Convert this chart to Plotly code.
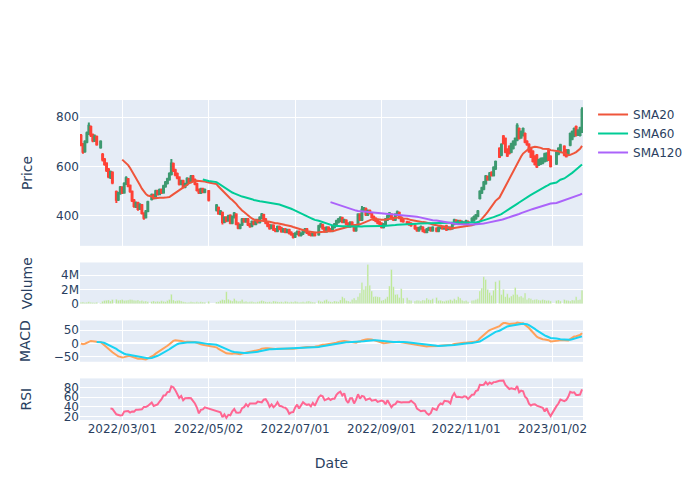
import pandas as pd
import plotly.graph_objects as go
from plotly.subplots import make_subplots

start_date = "2022-01-31"
# Tokyo market holidays inside the range (no trading on these weekdays)
holidays = [
    "2022-02-11", "2022-02-23", "2022-03-21", "2022-04-29", "2022-05-03",
    "2022-05-04", "2022-05-05", "2022-07-18", "2022-09-19", "2022-09-23",
    "2022-10-10", "2022-11-03", "2022-11-23", "2023-01-02", "2023-01-03",
    "2023-01-09",
]

opens = [
    725, 688, 662, 700, 735, 760, 728, 705, 720,
    678, 648, 628, 612, 588, 556, 575, 497, 466,
    492, 515, 495, 530, 548, 522, 498, 462, 438, 452,
    430, 443, 410, 394, 420, 468, 484, 472, 500,
    488, 505, 495, 520, 533, 548, 570, 610, 585, 570,
    555, 530, 540, 518, 528, 548, 538, 560, 545, 528,
    505, 495, 508, 498, 500, 425,
    432, 408, 412, 376, 392, 382, 400, 372, 395, 405,
    368, 352, 365, 385, 378, 385, 365, 360, 375, 368,
    382, 375, 392, 403, 385, 372, 362, 352, 360, 345,
    340, 355, 350, 338, 345, 335, 342, 332, 325, 316,
    328, 335, 322, 328, 338, 345, 332, 325, 322, 330,
    325, 358, 362, 350, 338, 352, 345, 340, 355,
    362, 375, 380, 390, 376, 380, 368, 358, 372, 360,
    342, 362, 405, 385, 425, 428, 405, 420, 410, 395,
    388, 382, 374, 368, 355, 365, 385, 398, 405, 390,
    385, 405, 412, 392, 382, 374, 372, 368,
    360, 350, 342, 350, 352, 340, 335, 345, 350, 342,
    348, 340, 352, 356, 350, 358, 348, 352, 350,
    368, 380, 372, 378, 370, 372, 368, 375, 380,
    382, 390, 400, 472, 495, 510, 532, 558, 548, 575,
    565, 592, 672, 648, 722, 712, 668, 680, 660,
    675, 690, 708, 752, 718, 728, 732, 700, 688, 672,
    660, 640, 645, 608, 612, 615, 622, 625, 665, 640,
    612, 652, 660, 680, 665, 650, 688,
    712, 725, 760, 730, 728, 742,
]

closes = [
    690, 660, 700, 735, 765, 728, 705, 722, 690,
    700, 628, 610, 585, 560, 578, 535, 465, 492,
    515, 495, 530, 552, 522, 500, 462, 440, 452, 428,
    445, 412, 392, 418, 455, 485, 472, 500, 488,
    505, 495, 520, 535, 548, 570, 612, 585, 568, 555,
    530, 540, 518, 528, 550, 538, 560, 545, 530, 505,
    495, 508, 498, 505, 465, 442,
    410, 418, 375, 392, 380, 398, 372, 395, 410, 368,
    352, 362, 385, 378, 385, 365, 358, 375, 368, 382,
    375, 392, 405, 385, 372, 360, 350, 360, 345, 340,
    355, 348, 338, 345, 335, 342, 330, 325, 315, 328,
    335, 322, 328, 338, 345, 332, 325, 322, 330, 322,
    358, 365, 350, 338, 352, 345, 340, 358, 365,
    378, 385, 392, 376, 382, 368, 358, 372, 360, 342,
    360, 405, 385, 425, 430, 405, 420, 412, 395, 385,
    380, 372, 368, 355, 365, 385, 398, 410, 390, 385,
    405, 415, 392, 380, 378, 370, 366, 362,
    350, 342, 350, 355, 340, 335, 345, 350, 342, 352,
    340, 352, 358, 350, 355, 345, 352, 348, 368,
    382, 372, 378, 370, 375, 368, 378, 372, 388,
    395, 402, 418, 498, 512, 535, 560, 548, 572, 565,
    595, 618, 640, 688, 695, 660, 645, 655, 690,
    700, 712, 765, 715, 740, 752, 700, 690, 662, 640,
    622, 610, 600, 625, 630, 632, 650, 652, 628, 602,
    655, 672, 686, 648, 642, 665, 732,
    740, 752, 728, 745, 755, 830,
]

highs = [
    732, 695, 706, 742, 778, 766, 734, 730, 726,
    706, 655, 634, 617, 594, 584, 581, 503, 498,
    521, 520, 536, 561, 553, 527, 503, 468, 458, 457,
    451, 448, 415, 424, 461, 491, 490, 506, 506,
    511, 511, 526, 541, 554, 577, 630, 616, 591, 576,
    561, 546, 546, 534, 556, 554, 566, 566, 551, 534,
    511, 514, 514, 511, 505, 448,
    438, 424, 418, 398, 398, 404, 406, 401, 416, 411,
    374, 368, 391, 391, 391, 391, 371, 381, 381, 388,
    388, 398, 412, 409, 391, 378, 368, 366, 366, 351,
    361, 361, 356, 351, 351, 348, 348, 338, 331, 334,
    341, 341, 334, 344, 351, 351, 338, 331, 336, 336,
    364, 371, 368, 356, 358, 358, 351, 364, 371,
    384, 391, 398, 396, 388, 386, 374, 378, 378, 366,
    366, 411, 411, 440, 436, 434, 426, 426, 416, 401,
    394, 388, 380, 374, 371, 391, 404, 416, 411, 396,
    411, 422, 418, 398, 388, 380, 378, 374,
    366, 356, 356, 361, 358, 346, 351, 356, 356, 358,
    354, 358, 364, 362, 361, 364, 358, 358, 374,
    388, 386, 384, 384, 381, 378, 384, 381, 394,
    401, 408, 424, 504, 518, 541, 566, 564, 578, 581,
    601, 624, 678, 694, 728, 718, 674, 686, 696,
    706, 718, 775, 758, 746, 758, 738, 706, 694, 678,
    666, 646, 651, 631, 636, 638, 656, 658, 671, 646,
    661, 678, 692, 686, 671, 671, 738,
    746, 758, 766, 751, 761, 840,
]

lows = [
    682, 652, 656, 694, 728, 720, 698, 699, 684,
    672, 620, 603, 578, 552, 549, 528, 452, 460,
    486, 489, 490, 525, 516, 494, 456, 433, 432, 421,
    424, 405, 384, 389, 415, 462, 466, 467, 482,
    483, 489, 490, 514, 527, 542, 564, 578, 561, 548,
    523, 524, 512, 512, 522, 532, 532, 539, 524, 499,
    489, 489, 492, 492, 458, 418,
    404, 402, 365, 370, 374, 376, 366, 366, 389, 362,
    346, 346, 359, 372, 372, 359, 352, 354, 362, 362,
    369, 369, 386, 379, 366, 354, 344, 346, 339, 334,
    334, 342, 332, 332, 329, 329, 324, 319, 308, 310,
    322, 316, 316, 322, 332, 326, 319, 316, 316, 316,
    319, 352, 344, 332, 332, 339, 334, 334, 349,
    356, 369, 374, 370, 370, 362, 352, 352, 354, 336,
    336, 356, 379, 379, 419, 399, 399, 406, 389, 379,
    374, 366, 362, 349, 349, 359, 379, 392, 384, 379,
    379, 399, 386, 374, 372, 364, 360, 356,
    344, 336, 336, 344, 334, 329, 329, 339, 336, 336,
    334, 334, 346, 344, 344, 339, 342, 342, 344,
    362, 366, 366, 364, 364, 362, 362, 366, 374,
    376, 384, 394, 466, 489, 504, 526, 542, 542, 559,
    559, 586, 634, 642, 689, 654, 639, 649, 654,
    669, 684, 702, 709, 712, 722, 694, 684, 656, 634,
    616, 604, 594, 602, 606, 609, 616, 619, 622, 596,
    606, 646, 654, 642, 636, 644, 682,
    706, 719, 722, 724, 722, 736,
]

# volume in millions of shares
volume_m = [
    0.20, 0.25, 0.18, 0.22, 0.30, 0.20, 0.18, 0.15, 0.20, 0.12,
    0.35, 0.45, 0.50, 0.55, 0.40, 0.60, 0.65, 0.50, 0.55, 0.60,
    0.45, 0.50, 0.55, 0.60, 0.58, 0.50, 0.45, 0.55, 0.40,
    0.45, 0.35, 0.40, 0.30, 0.32, 0.40, 0.28, 0.35, 0.30, 0.42,
    0.35, 0.30, 0.45, 0.60,
    1.35,
    0.55, 0.40, 0.48, 0.50, 0.38, 0.30, 0.25, 0.18, 0.22, 0.30,
    0.25, 0.20, 0.28, 0.22,
    0.30, 0.25, 0.20, 0.35, 0.25, 0.30, 0.45, 0.60, 0.55,
    1.70,
    0.65, 0.50, 0.40, 0.75, 0.45, 0.35, 0.40, 0.60, 0.30, 0.35, 0.25,
    0.28, 0.32, 0.25, 0.20, 0.30, 0.35, 0.45, 0.40, 0.30, 0.25,
    0.30, 0.22, 0.40, 0.35, 0.30,
    0.25, 0.30, 0.22, 0.35, 0.28, 0.20, 0.30, 0.25, 0.35, 0.30,
    0.22, 0.25, 0.30, 0.20, 0.35, 0.40, 0.30, 0.25, 0.20,
    0.45, 0.35, 0.30, 0.50, 0.60,
    0.35, 0.30, 0.25, 0.40, 0.35, 0.30, 0.55, 1.00, 0.80, 0.45,
    0.40, 0.30, 0.60, 0.80, 0.55,
    1.00, 1.50, 3.00, 2.00, 2.50, 5.50, 2.60, 1.80, 1.00, 1.05,
    1.00, 0.95, 0.45, 0.55, 0.70, 1.00, 2.50, 4.80, 2.40, 1.30,
    1.35, 0.90, 2.10, 0.80, 0.85, 0.55, 0.45, 0.40,
    0.50, 0.45, 0.40, 0.55, 0.50, 0.80, 0.60, 0.55, 0.70, 0.90,
    0.45, 0.50, 0.40, 0.35, 0.45, 0.50, 0.60, 0.45, 0.70, 0.55,
    1.00, 0.80, 0.50, 0.40, 0.45, 0.30, 0.45, 0.50, 0.60, 0.70,
    1.80, 2.20, 3.80, 3.40, 2.00, 1.60, 1.20, 1.90, 3.10, 3.30,
    1.30, 2.00, 1.00, 1.40, 0.90, 1.10, 1.30, 2.30, 1.30, 1.00,
    1.10, 0.90, 1.50, 0.60, 0.80, 0.70, 0.55, 0.60, 0.65, 0.55,
    0.50, 0.60, 0.55, 0.45, 0.50, 0.40,
    0.45, 0.55, 0.40, 0.60, 0.50, 0.45, 0.40, 0.55, 0.50, 1.00,
    0.55, 0.60, 1.90,
]

dates = pd.bdate_range(start_date, periods=len(closes), freq="C", holidays=holidays)
volume = [v * 1e6 for v in volume_m]

# indicators derived from the close prices
close_s = pd.Series(closes, index=dates, dtype=float)
sma20 = close_s.rolling(20).mean()
sma60 = close_s.rolling(60).mean()
sma120 = close_s.rolling(120).mean()
ema12 = close_s.ewm(span=12, adjust=False).mean()
ema26 = close_s.ewm(span=26, adjust=False).mean()
macd = ema12 - ema26
signal = macd.ewm(span=9, adjust=False, min_periods=9).mean()
delta = close_s.diff()
gain = delta.clip(lower=0).rolling(14).mean()
loss = (-delta.clip(upper=0)).rolling(14).mean()
rsi = 100 - 100 / (1 + gain / loss)

fig = make_subplots(rows=4, cols=1, shared_xaxes=True,
                    vertical_spacing=0.052,
                    row_heights=[0.54, 0.153, 0.153, 0.154])

fig.add_trace(go.Candlestick(x=dates, open=opens, high=highs, low=lows, close=closes,
                             name="Price", showlegend=False), row=1, col=1)
fig.add_trace(go.Scatter(x=dates, y=sma20, mode="lines", name="SMA20",
                         line=dict(color="#EF553B")), row=1, col=1)
fig.add_trace(go.Scatter(x=dates, y=sma60, mode="lines", name="SMA60",
                         line=dict(color="#00CC96")), row=1, col=1)
fig.add_trace(go.Scatter(x=dates, y=sma120, mode="lines", name="SMA120",
                         line=dict(color="#AB63FA")), row=1, col=1)
fig.add_trace(go.Bar(x=dates, y=volume, name="Volume", marker_color="#B6E880",
                     showlegend=False), row=2, col=1)
fig.add_trace(go.Scatter(x=dates, y=macd, mode="lines", name="MACD",
                         line=dict(color="#FFA15A"), showlegend=False), row=3, col=1)
fig.add_trace(go.Scatter(x=dates, y=signal, mode="lines", name="Signal",
                         line=dict(color="#19D3F3"), showlegend=False), row=3, col=1)
fig.add_trace(go.Scatter(x=dates, y=rsi, mode="lines", name="RSI",
                         line=dict(color="#FF6692"), showlegend=False), row=4, col=1)

fig.update_xaxes(rangebreaks=[dict(bounds=["sat", "mon"])],
                 rangeslider_visible=False,
                 tickformat="%Y/%m/%d", dtick="M2", tick0="2022-01-01")
fig.update_xaxes(title_text="Date", title_standoff=23, row=4, col=1)
fig.update_yaxes(title_text="Price", title_standoff=20, row=1, col=1)
fig.update_yaxes(title_text="Volume", title_standoff=25, row=2, col=1)
fig.update_yaxes(title_text="MACD", title_standoff=19, row=3, col=1)
fig.update_yaxes(title_text="RSI", title_standoff=28, row=4, col=1)

fig.update_layout(width=700, height=500,
                  font=dict(family="DejaVu Sans, Verdana, sans-serif"))

fig.write_html("out.html", config={"displayModeBar": False},
               post_script="document.body.style.margin='0px';")
